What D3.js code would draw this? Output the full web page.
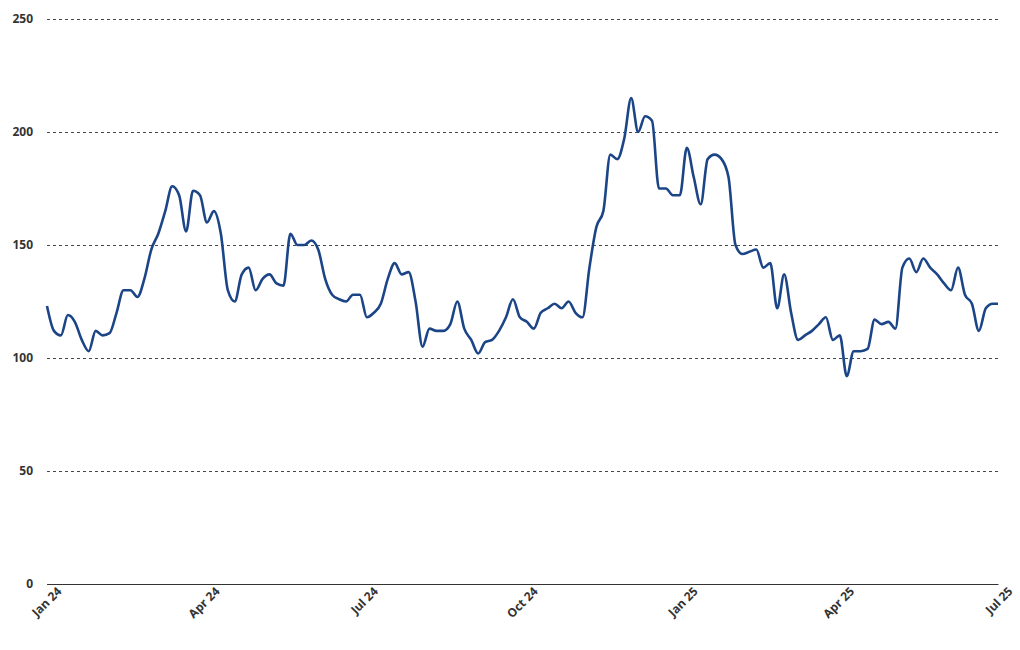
<!DOCTYPE html>
<html><head><meta charset="utf-8">
<script src="https://cdn.jsdelivr.net/npm/d3@7"></script>
<style>body{margin:0;background:#fff}svg text{font-family:"Noto Sans","Open Sans",sans-serif}</style>
</head><body><svg id="c" width="1020" height="650"></svg>
<script>
const startDate = "2024-01-01";
const stepDays = 4;
const values = [123,112,110,119,116,108,103,112,110,111,120,130,130,127,135,148,155,165,176,172,156,174,172,160,165,155,130,125,137,140,130,135,137,133,132,155,150,150,152,148,135,128,126,125,128,128,118,120,124,135,142,137,138,125,105,113,112,112,115,125,113,108,102,107,108,112,118,126,118,116,113,120,122,124,122,125,120,118,140,158,165,190,188,197,215,200,207,205,175,175,172,172,193,180,168,188,190,188,180,150,146,147,148,140,142,122,137,120,108,110,112,115,118,108,110,92,103,103,104,117,115,116,113,140,144,138,144,140,137,133,130,140,128,124,112,122,124,124];
const yTicks = [0,50,100,150,200,250];
const xTickDates = ["2024-01-01","2024-04-01","2024-07-01","2024-10-01","2025-01-01","2025-04-01","2025-07-01"];
const xTickLabels = ["Jan 24","Apr 24","Jul 24","Oct 24","Jan 25","Apr 25","Jul 25"];

const svg = d3.select("#c");
const L=47,R=998,T=19,B=584;
const p = d3.utcParse("%Y-%m-%d");
const t0 = p(startDate);
const x = d3.scaleUtc().domain([p("2024-01-01"),p("2025-07-01")]).range([L,R]);
const data = values.map((v,i)=>{let d=d3.utcDay.offset(t0,i*stepDays); if(d>x.domain()[1]) d=x.domain()[1]; return {d,v};});
const y = d3.scaleLinear().domain([0,250]).range([B,T]);

const yg = svg.append("g").attr("transform",`translate(${L},0)`)
 .call(d3.axisLeft(y).tickValues(yTicks).tickSize(-(R-L)).tickPadding(14));
yg.select(".domain").remove();
yg.selectAll(".tick line").attr("stroke","#333").attr("stroke-dasharray","3,3")
  .attr("stroke-width",0.9).filter(d=>d===0).attr("stroke-dasharray",null);
yg.selectAll("text").attr("font-size",12).attr("font-weight","bold").attr("fill","#333");

const xg = svg.append("g").attr("transform",`translate(0,${B})`)
 .call(d3.axisBottom(x).tickValues(xTickDates.map(p)).tickSize(0).tickFormat((d,i)=>xTickLabels[i]));
xg.select(".domain").attr("stroke","#333");
xg.selectAll("text").attr("font-size",12).attr("font-weight","bold").attr("fill","#333")
 .attr("text-anchor","end").attr("dx","0.4em").attr("dy","1.1em").attr("transform","rotate(-45)");

svg.append("path").datum(data).attr("fill","none").attr("stroke","#1c4587").attr("stroke-width",2.6)
 .attr("stroke-linejoin","round")
 .attr("d",d3.line().curve(d3.curveMonotoneX).x(d=>x(d.d)).y(d=>y(d.v)));
</script></body></html>
